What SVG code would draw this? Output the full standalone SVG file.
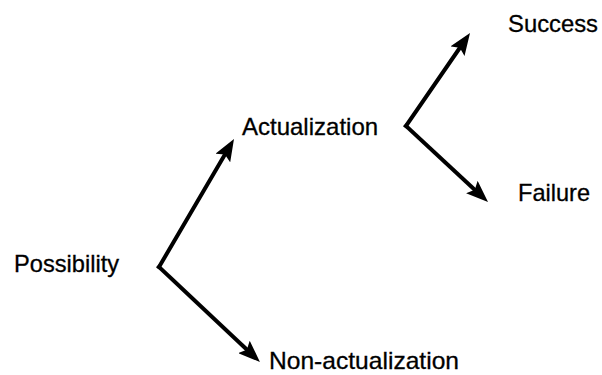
<svg xmlns="http://www.w3.org/2000/svg" width="602" height="375" viewBox="0 0 602 375">
  <style>
    .label { font-family: "Liberation Sans", Arial, sans-serif; font-size: 24px; fill: #000; stroke: #000; stroke-width: 0.3; }
    .edge { fill: none; stroke: #000; stroke-width: 4; stroke-linecap: square; stroke-linejoin: miter; }
  </style>
  <defs>
    <marker id="arrow" viewBox="0 0 22 17" refX="7" refY="8.5" markerWidth="22" markerHeight="17" markerUnits="userSpaceOnUse" orient="auto">
      <path d="M0,0 L22,8.5 L0,17 L4,8.5 z" fill="#000"/>
    </marker>
  </defs>
  <rect width="602" height="375" fill="#fff"/>

  <!-- arrows: each pair fans out from a shared vertex -->
  <g id="connectors">
    <path class="edge" d="M159,267 L226.4,152" marker-end="url(#arrow)"/>
    <path class="edge" d="M159,267 L249,351.7" marker-end="url(#arrow)"/>
    <path class="edge" d="M406,126 L461.5,45.4" marker-end="url(#arrow)"/>
    <path class="edge" d="M406,126 L477,191.8" marker-end="url(#arrow)"/>
  </g>

  <g id="possibility"><text class="label" x="14" y="272" textLength="105" lengthAdjust="spacingAndGlyphs">Possibility</text></g>
  <g id="actualization"><text class="label" x="242" y="135">Actualization</text></g>
  <g id="success"><text class="label" x="508" y="32" textLength="90" lengthAdjust="spacingAndGlyphs">Success</text></g>
  <g id="failure"><text class="label" x="518" y="201" textLength="72" lengthAdjust="spacingAndGlyphs">Failure</text></g>
  <g id="non-actualization"><text class="label" x="269" y="369" textLength="190" lengthAdjust="spacingAndGlyphs">Non-actualization</text></g>
</svg>
